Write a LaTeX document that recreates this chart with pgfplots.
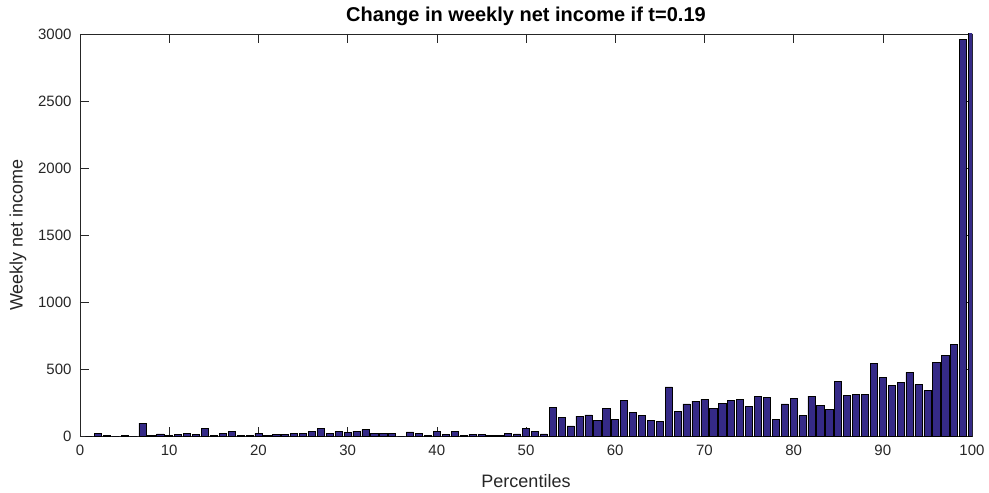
\documentclass[border=0pt]{standalone}
\usepackage{pgfplots}
\pgfplotsset{compat=1.18}
\usepackage{pgfplotstable}
\usepackage{fontspec}
\setmainfont{Liberation Sans}
\definecolor{barfill}{RGB}{53,42,135}
\definecolor{axgray}{RGB}{38,38,38}

\pgfplotstableread{
p v
1 0
2 20
3 2
4 0
5 4
6 0
7 97
8 5
9 15
10 7
11 12
12 17
13 10
14 57
15 2
16 17
17 32
18 3
19 3
20 20
21 2
22 10
23 12
24 20
25 17
26 35
27 57
28 17
29 32
30 25
31 37
32 47
33 17
34 20
35 20
36 0
37 30
38 20
39 5
40 35
41 10
42 32
43 2
44 12
45 12
46 7
47 2
48 22
49 15
50 55
51 32
52 15
53 214
54 139
55 75
56 149
57 157
58 114
59 204
60 125
61 266
62 174
63 152
64 119
65 109
66 366
67 184
68 239
69 261
70 274
71 204
72 241
73 263
74 271
75 221
76 298
77 288
78 122
79 239
80 283
81 152
82 298
83 226
84 196
85 408
86 303
87 311
88 313
89 542
90 435
91 376
92 400
93 475
94 386
95 338
96 552
97 602
98 686
99 2960
100 3100
}\incometable

\begin{document}
\begin{tikzpicture}
\path[use as bounding box] (0,0) rectangle (989pt,493pt);
\begin{axis}[
  at={(80pt,57pt)}, anchor=south west,
  scale only axis,
  width=892pt, height=402pt,
  xmin=0, xmax=100, ymin=0, ymax=3000,
  xtick={0,10,...,100},
  ytick={0,500,...,3000},
  tick align=inside,
  major tick length=9pt,
  axis line style={axgray, line width=0.6pt},
  tick style={axgray, line width=0.6pt},
  ticklabel style={font=\fontsize{15}{17}\selectfont, text=axgray},
  yticklabel style={xshift=-5pt},
  xticklabel style={yshift=-5pt},
  /pgf/number format/assume math mode=true,
  /pgf/number format/1000 sep={},
  scaled y ticks=false,
  title={\bfseries Change in weekly net income if t=0.19},
  title style={font=\fontsize{20}{23}\selectfont,
    at={(axis description cs:0.5,1.03)}, anchor=center},
  xlabel={Percentiles},
  ylabel={Weekly net income},
  label style={font=\fontsize{18}{20}\selectfont, text=axgray},
  xlabel style={at={(axis description cs:0.5,-0.112)}, anchor=center},
  ylabel style={at={(axis description cs:-0.0695,0.5)}, anchor=center},
]
\addplot[ybar, bar width=0.8, fill=barfill, draw=black, line width=0.6pt]
  table[x=p, y=v] {\incometable};
\end{axis}
\end{tikzpicture}
\end{document}
